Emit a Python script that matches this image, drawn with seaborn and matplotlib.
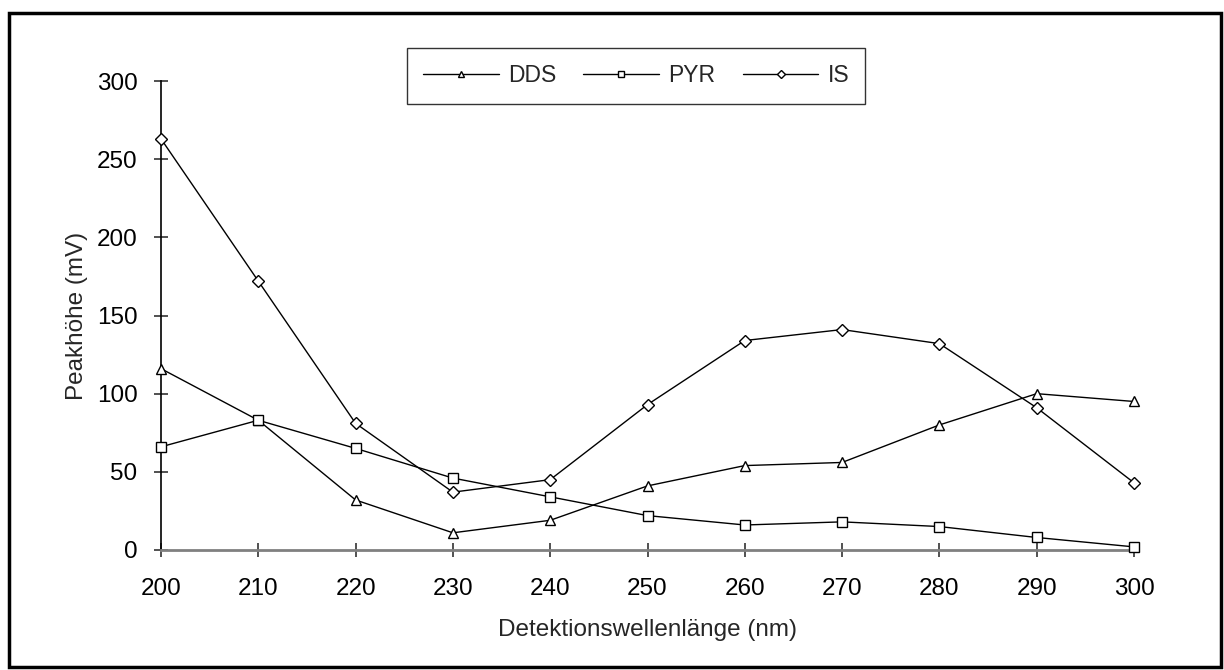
import matplotlib
matplotlib.use("Agg")
import matplotlib.pyplot as plt
import seaborn as sns
import pandas as pd
from matplotlib.patches import Rectangle
from matplotlib.lines import Line2D

wavelengths = [200, 210, 220, 230, 240, 250, 260, 270, 280, 290, 300]
dds = [116, 83, 32, 11, 19, 41, 54, 56, 80, 100, 95]
pyr = [66, 83, 65, 46, 34, 22, 16, 18, 15, 8, 2]
is_vals = [263, 172, 81, 37, 45, 93, 134, 141, 132, 91, 43]
series_names = ["DDS", "PYR", "IS"]
markers = ["^", "s", "D"]
msizes = [7.5, 7, 6]

sns.set_theme(style="white")
plt.rcParams["font.family"] = ["Liberation Sans", "DejaVu Sans"]

df = pd.DataFrame({"x": wavelengths * 3,
                   "y": dds + pyr + is_vals,
                   "s": [n for n in series_names for _ in wavelengths]})

W, H = 1224, 670
fig = plt.figure(figsize=(W / 100, H / 100), dpi=100)
ax = fig.add_axes([161 / W, 1 - 550 / H, (1134 - 161) / W, (550 - 81) / H])

for name, m, ms in zip(series_names, markers, msizes):
    sub = df[df["s"] == name]
    sns.lineplot(data=sub, x="x", y="y", ax=ax, color="black", lw=1,
                 marker=m, markersize=ms, markerfacecolor="white",
                 markeredgecolor="black", markeredgewidth=1, legend=False,
                 clip_on=False, zorder=3)

ax.set_xlim(200, 300)
ax.set_ylim(0, 300)
ax.set_xticks(wavelengths)
ax.set_yticks([0, 50, 100, 150, 200, 250, 300])
for s in ["top", "right"]:
    ax.spines[s].set_visible(False)
ax.spines["left"].set_color("black")
ax.spines["left"].set_linewidth(1.2)
ax.spines["bottom"].set_color("#808080")
ax.spines["bottom"].set_linewidth(2)
ax.tick_params(axis="both", which="major", bottom=True, left=True,
               direction="inout", length=10, width=1.2, labelsize=17.5,
               labelcolor="black", color="#333333")
ax.tick_params(axis="x", pad=15)
ax.tick_params(axis="y", pad=12)
ax.set_xlabel("Detektionswellenlänge (nm)", fontsize=17.5, labelpad=14)
ax.set_ylabel("Peakhöhe (mV)", fontsize=17.5, labelpad=6)

leg_handles = [Line2D([], [], color="black", lw=1, marker=m, markersize=ms * 0.65,
                      markerfacecolor="white", markeredgecolor="black")
               for m, ms in zip(markers, msizes)]
leg = fig.legend(leg_handles, series_names, loc="center",
                 bbox_to_anchor=(636 / W, 1 - 76 / H), ncol=3, fontsize=16.5,
                 frameon=True, fancybox=False, handlelength=3.3,
                 columnspacing=1.2, handletextpad=0.4, borderpad=0.7,
                 borderaxespad=0)
leg.get_frame().set_edgecolor("black")
leg.get_frame().set_linewidth(1)

fig.patches.append(Rectangle((9 / W, 3 / H), (1221 - 9) / W, (657 - 3) / H,
                             transform=fig.transFigure, fill=False,
                             edgecolor="black", linewidth=2.5))

fig.savefig("out.png", dpi=100)
